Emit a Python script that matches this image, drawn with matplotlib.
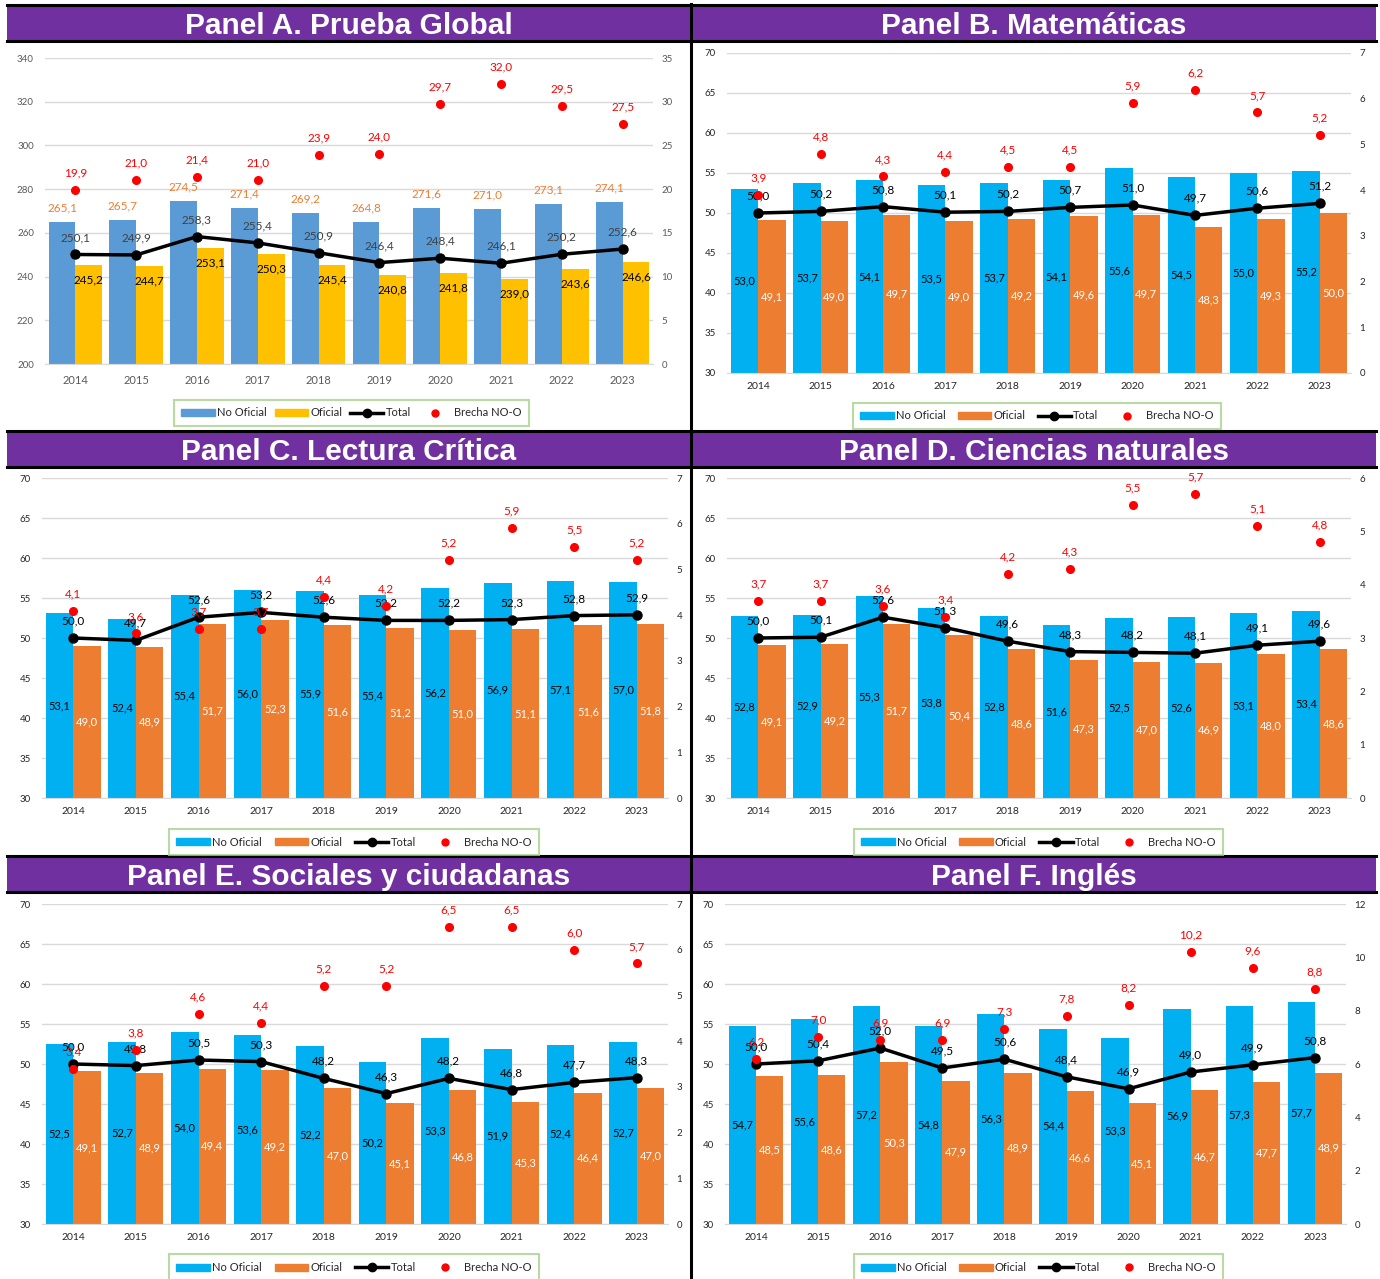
import numpy as np
import matplotlib
matplotlib.use('Agg')
import matplotlib.pyplot as plt
from matplotlib.patches import Rectangle, Patch
from matplotlib.lines import Line2D

# DATA
years = ['2014', '2015', '2016', '2017', '2018', '2019', '2020', '2021', '2022', '2023']

a_no = [265.1, 265.7, 274.5, 271.4, 269.2, 264.8, 271.6, 271.0, 273.1, 274.1]
a_of = [245.2, 244.7, 253.1, 250.3, 245.4, 240.8, 241.8, 239.0, 243.6, 246.6]
a_tot = [250.1, 249.9, 258.3, 255.4, 250.9, 246.4, 248.4, 246.1, 250.2, 252.6]
a_gap = [19.9, 21.0, 21.4, 21.0, 23.9, 24.0, 29.7, 32.0, 29.5, 27.5]

b_no = [53.0, 53.7, 54.1, 53.5, 53.7, 54.1, 55.6, 54.5, 55.0, 55.2]
b_of = [49.1, 49.0, 49.7, 49.0, 49.2, 49.6, 49.7, 48.3, 49.3, 50.0]
b_tot = [50.0, 50.2, 50.8, 50.1, 50.2, 50.7, 51.0, 49.7, 50.6, 51.2]
b_gap = [3.9, 4.8, 4.3, 4.4, 4.5, 4.5, 5.9, 6.2, 5.7, 5.2]

c_no = [53.1, 52.4, 55.4, 56.0, 55.9, 55.4, 56.2, 56.9, 57.1, 57.0]
c_of = [49.0, 48.9, 51.7, 52.3, 51.6, 51.2, 51.0, 51.1, 51.6, 51.8]
c_tot = [50.0, 49.7, 52.6, 53.2, 52.6, 52.2, 52.2, 52.3, 52.8, 52.9]
c_gap = [4.1, 3.6, 3.7, 3.7, 4.4, 4.2, 5.2, 5.9, 5.5, 5.2]

d_no = [52.8, 52.9, 55.3, 53.8, 52.8, 51.6, 52.5, 52.6, 53.1, 53.4]
d_of = [49.1, 49.2, 51.7, 50.4, 48.6, 47.3, 47.0, 46.9, 48.0, 48.6]
d_tot = [50.0, 50.1, 52.6, 51.3, 49.6, 48.3, 48.2, 48.1, 49.1, 49.6]
d_gap = [3.7, 3.7, 3.6, 3.4, 4.2, 4.3, 5.5, 5.7, 5.1, 4.8]

e_no = [52.5, 52.7, 54.0, 53.6, 52.2, 50.2, 53.3, 51.9, 52.4, 52.7]
e_of = [49.1, 48.9, 49.4, 49.2, 47.0, 45.1, 46.8, 45.3, 46.4, 47.0]
e_tot = [50.0, 49.8, 50.5, 50.3, 48.2, 46.3, 48.2, 46.8, 47.7, 48.3]
e_gap = [3.4, 3.8, 4.6, 4.4, 5.2, 5.2, 6.5, 6.5, 6.0, 5.7]

f_no = [54.7, 55.6, 57.2, 54.8, 56.3, 54.4, 53.3, 56.9, 57.3, 57.7]
f_of = [48.5, 48.6, 50.3, 47.9, 48.9, 46.6, 45.1, 46.7, 47.7, 48.9]
f_tot = [50.0, 50.4, 52.0, 49.5, 50.6, 48.4, 46.9, 49.0, 49.9, 50.8]
f_gap = [6.2, 7.0, 6.9, 6.9, 7.3, 7.8, 8.2, 10.2, 9.6, 8.8]

titles = ['Panel A. Prueba Global', 'Panel B. Matemáticas', 'Panel C. Lectura Crítica',
          'Panel D. Ciencias naturales', 'Panel E. Sociales y ciudadanas', 'Panel F. Inglés']

# LAYOUT (pixels)
W, H = 1380, 1279
PURPLE = '#7030A0'
LBL = ['Lato', 'DejaVu Sans']

fig = plt.figure(figsize=(W / 100, H / 100), dpi=100)


def fx(x):
    return x / W


def fy(y):
    return 1 - y / H


def fmt(v):
    return f'{v:.1f}'.replace('.', ',')


def header(x0, x1, y0, y1, title):
    fig.patches.append(Rectangle((fx(x0), fy(y1)), fx(x1) - fx(x0), fy(y0) - fy(y1),
                                 transform=fig.transFigure, facecolor=PURPLE,
                                 edgecolor='none', zorder=0))
    for yy in (y0, y1):
        fig.add_artist(Line2D([fx(x0), fx(x1)], [fy(yy), fy(yy)], color='black', lw=2.2,
                              transform=fig.transFigure))
    fig.text(fx((x0 + x1) / 2), fy((y0 + y1) / 2 + 3), title, color='white', fontsize=21.5,
             fontweight='bold', family='Liberation Sans', ha='center', va='center')


def panel(box, no, of, tot, gap, ylim, ystep, y2lim, y2step, leg, global_style=False):
    x0, y0, x1, y1 = box
    ax = fig.add_axes([fx(x0), fy(y1), fx(x1) - fx(x0), fy(y0) - fy(y1)])
    x = np.arange(len(years))
    w = 0.44
    c_no, c_of = ('#5B9BD5', '#FFC000') if global_style else ('#00B0F0', '#ED7D31')
    ax.bar(x - w / 2, no, w, color=c_no, zorder=2)
    ax.bar(x + w / 2, of, w, color=c_of, zorder=2)
    ax.plot(x, tot, color='black', lw=2.5, marker='o', ms=6.5, zorder=4)
    ax.set_xlim(-0.5, 9.5)
    ax.set_ylim(*ylim)
    ax.set_yticks(np.arange(ylim[0], ylim[1] + 0.1, ystep))
    ax.set_xticks(x, years)
    ax.grid(axis='y', color='#D9D9D9', lw=1)
    ax.set_axisbelow(True)
    for s in ('top', 'left', 'right'):
        ax.spines[s].set_visible(False)
    ax.spines['bottom'].set_color('#D9D9D9')
    tcol = '#595959' if global_style else '#262626'
    ax.tick_params(axis='y', length=0, labelsize=7, labelcolor=tcol, pad=8)
    ax.tick_params(axis='x', length=0, labelsize=8 if global_style else 7.5,
                   labelcolor=tcol, pad=8 if global_style else 6.5)
    for lab in ax.get_xticklabels() + ax.get_yticklabels():
        lab.set_family(LBL)

    for i in range(len(years)):
        if global_style:
            ax.annotate(fmt(no[i]), (i - w / 2, no[i]), xytext=(0, 14), textcoords='offset pixels',
                        ha='center', va='center', color='#ED7D31', fontsize=8.5, family=LBL, zorder=6)
            ax.annotate(fmt(of[i]), (i + w / 2, of[i]), xytext=(0, -15), textcoords='offset pixels',
                        ha='center', va='center', color='black', fontsize=8.5, family=LBL, zorder=6)
            tc = '#404040'
        else:
            ax.text(i - w / 2, (ylim[0] + no[i]) / 2, fmt(no[i]), ha='center', va='center',
                    color='black', fontsize=8, family=LBL, zorder=6)
            ax.text(i + w / 2, (ylim[0] + of[i]) / 2, fmt(of[i]), ha='center', va='center',
                    color='white', fontsize=8, family=LBL, zorder=6)
            tc = 'black'
        ax.annotate(fmt(tot[i]), (i, tot[i]), xytext=(0, 17), textcoords='offset pixels',
                    ha='center', va='center', color=tc, fontsize=8.5, family=LBL, zorder=6)

    ax2 = ax.twinx()
    ax2.plot(x, gap, 'o', color='red', ms=5.5, zorder=5)
    ax2.set_ylim(*y2lim)
    ax2.set_yticks(np.arange(y2lim[0], y2lim[1] + 0.1, y2step))
    for s in ax2.spines.values():
        s.set_visible(False)
    ax2.tick_params(axis='y', length=0, labelsize=7, labelcolor=tcol, pad=6)
    for lab in ax2.get_yticklabels():
        lab.set_family(LBL)
    for i in range(len(years)):
        ax2.annotate(fmt(gap[i]), (i, gap[i]), xytext=(0, 17), textcoords='offset pixels',
                     ha='center', va='center', color='red', fontsize=8.5, family=LBL)

    handles = [Patch(color=c_no, label='No Oficial'), Patch(color=c_of, label='Oficial'),
               Line2D([], [], color='black', lw=2.5, marker='o', ms=6, label='Total'),
               Line2D([], [], color='red', ls='none', marker='o', ms=5, label='Brecha NO-O')]
    lx0, ly0, lx1, ly1 = leg
    lg = fig.legend(handles=handles, loc='center', ncol=4, mode='expand',
                    bbox_to_anchor=(fx(lx0), fy(ly1), fx(lx1) - fx(lx0), fy(ly0) - fy(ly1)),
                    bbox_transform=fig.transFigure, frameon=True, fancybox=False,
                    edgecolor='#A9D18E', borderpad=0.7, handlelength=3.0, handleheight=0.6,
                    handletextpad=0.2, prop={'family': LBL, 'size': 8})
    lg.get_frame().set_linewidth(1.5)
    for t in lg.get_texts():
        t.set_color('#262626')
    return ax, ax2


# headers and separators
header(7, 690, 5, 41, titles[0])
header(692, 1376, 5, 41, titles[1])
header(7, 690, 431, 467, titles[2])
header(692, 1376, 431, 467, titles[3])
header(7, 690, 856, 892, titles[4])
header(692, 1376, 856, 892, titles[5])
fig.add_artist(Line2D([fx(691), fx(691)], [fy(4), fy(1279)], color='black', lw=2.2,
                      transform=fig.transFigure))

panel((45, 58, 653, 364), a_no, a_of, a_tot, a_gap, (200, 340), 20, (0, 35), 5,
      (168, 401, 535, 425), global_style=True)
panel((727, 53, 1351, 373), b_no, b_of, b_tot, b_gap, (30, 70), 5, (0, 7), 1,
      (847, 405, 1227, 427))
panel((42, 478, 668, 798), c_no, c_of, c_tot, c_gap, (30, 70), 5, (0, 7), 1,
      (163, 831, 545, 853))
panel((727, 478, 1351, 798), d_no, d_of, d_tot, d_gap, (30, 70), 5, (0, 6), 1,
      (848, 831, 1229, 853))
panel((42, 904, 668, 1224), e_no, e_of, e_tot, e_gap, (30, 70), 5, (0, 7), 1,
      (163, 1257, 545, 1278))
panel((725, 904, 1346, 1224), f_no, f_of, f_tot, f_gap, (30, 70), 5, (0, 12), 2,
      (848, 1257, 1229, 1278))

fig.savefig('out.png', dpi=100)
